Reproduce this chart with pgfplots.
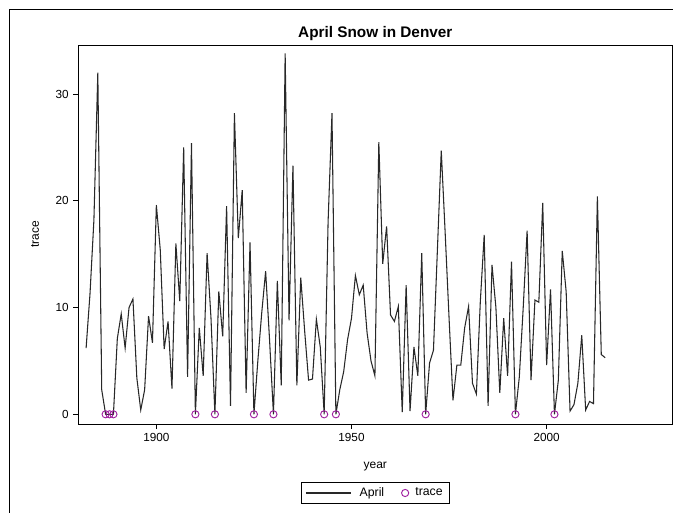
\documentclass[border=0pt]{standalone}
\usepackage{fontspec}
\setmainfont{Liberation Sans}
\usepackage{pgfplots}
\pgfplotsset{compat=1.18}
\usepackage{pgfplotstable}
\definecolor{tracec}{RGB}{160,32,160}
\definecolor{linec}{RGB}{40,40,40}
\pgfplotsset{
  longline/.style={legend image code/.code={\draw[##1] (0cm,0cm) -- (1.2cm,0cm); \path[draw=none] (1.2cm,0cm) -- (1.35cm,0cm);}},
  circleimg/.style={legend image code/.code={\path[draw=none] (-0.2cm,0cm) -- (0.2cm,0cm); \draw[##1] plot coordinates {(0cm,0cm)};}},
}
\pgfplotstableread{
year april
1882 6.2
1883 11.3
1884 18.2
1885 32.0
1886 2.3
1887 0
1888 0
1889 0
1890 7.1
1891 9.4
1892 6.2
1893 10.0
1894 10.8
1895 3.4
1896 0.4
1897 2.3
1898 9.2
1899 6.7
1900 19.6
1901 15.4
1902 6.1
1903 8.7
1904 2.4
1905 16.0
1906 10.6
1907 25.0
1908 3.5
1909 25.4
1910 0
1911 8.1
1912 3.6
1913 15.1
1914 9.0
1915 0
1916 11.5
1917 7.3
1918 19.5
1919 0.8
1920 28.2
1921 16.5
1922 21.0
1923 2.0
1924 16.1
1925 0
1926 5.0
1927 9.5
1928 13.4
1929 7.0
1930 0
1931 12.5
1932 2.7
1933 33.8
1934 8.8
1935 23.3
1936 2.7
1937 12.8
1938 7.8
1939 3.2
1940 3.3
1941 8.9
1942 6.3
1943 0
1944 18.0
1945 28.2
1946 0
1947 2.3
1948 4.0
1949 7.0
1950 9.0
1951 13.0
1952 11.2
1953 12.1
1954 7.6
1955 5.0
1956 3.6
1957 25.5
1958 14.1
1959 17.6
1960 9.3
1961 8.7
1962 10.1
1963 0.2
1964 12.1
1965 0.3
1966 6.3
1967 3.6
1968 15.1
1969 0
1970 4.8
1971 6.0
1972 15.3
1973 24.7
1974 17.0
1975 9.0
1976 1.3
1977 4.6
1978 4.6
1979 8.1
1980 10.1
1981 2.9
1982 1.9
1983 10.5
1984 16.8
1985 0.8
1986 14.0
1987 10.0
1988 2.0
1989 9.0
1990 3.6
1991 14.3
1992 0
1993 3.5
1994 10.0
1995 17.2
1996 3.2
1997 10.7
1998 10.5
1999 19.8
2000 4.6
2001 11.7
2002 0
2003 3.2
2004 15.3
2005 11.5
2006 0.3
2007 0.9
2008 2.9
2009 7.4
2010 0.4
2011 1.2
2012 1.0
2013 20.4
2014 5.6
2015 5.3
}\aprildata
\pgfplotstableread{
year trace
1887 0
1888 0
1889 0
1910 0
1915 0
1925 0
1930 0
1943 0
1946 0
1969 0
1992 0
2002 0
}\tracedata
\begin{document}
\begin{tikzpicture}[x=0.75pt,y=0.75pt]
\path[use as bounding box] (0,0) rectangle (673,512);
\draw[line width=0.6pt] (9.3,-2) -- (9.3,502.7) -- (675,502.7);
\begin{axis}[
  at={(58.725pt,66pt)}, anchor=south west,
  scale only axis, width=445.5pt, height=284.25pt,
  xmin=1880, xmax=2032.2, ymin=-0.91, ymax=34.59,
  xtick={1900,1950,2000}, ytick={0,10,20,30},
  xtick pos=bottom, ytick pos=left,
  tick align=outside, major tick length=3.75pt,
  tick style={black, line width=0.6pt},
  axis line style={line width=0.6pt},
  /pgf/number format/assume math mode=true,
  /pgf/number format/1000 sep={},
  ticklabel style={font=\fontsize{8.8}{10}\selectfont},
  every axis title shift=0pt,
  title={\bfseries April Snow in Denver},
  title style={at={(axis description cs:0.5,1)}, anchor=base, yshift=5.3pt, inner sep=0pt, font=\fontsize{11.5}{13}\selectfont},
  xlabel={year}, ylabel={trace},
  label style={font=\fontsize{9}{11}\selectfont},
  xlabel style={at={(axis description cs:0.5,-0.113)}, anchor=center},
  ylabel style={at={(axis description cs:-0.0729,0.5)}, anchor=center},
  legend style={at={(axis description cs:0.5,-0.182)}, anchor=center, legend columns=2, draw=black, line width=0.6pt, font=\fontsize{9.2}{11}\selectfont, inner xsep=3pt, inner ysep=1.5pt, /tikz/every even column/.append style={column sep=8pt}},
]
\addplot[color=linec, line width=0.8pt, mark=none, longline] table[x=year, y=april] {\aprildata};
\addlegendentry{April}
\addplot[only marks, mark=o, mark size=2.7pt, color=tracec, mark options={line width=0.7pt}, circleimg] table[x=year, y=trace] {\tracedata};
\addlegendentry{trace}
\end{axis}
\end{tikzpicture}
\end{document}
